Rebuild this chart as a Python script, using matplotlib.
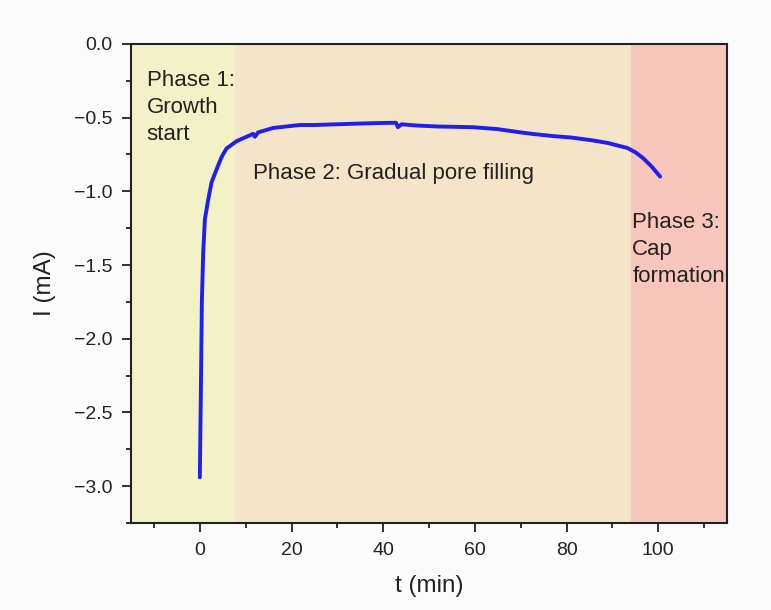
import matplotlib
matplotlib.use("Agg")
import matplotlib.pyplot as plt
from matplotlib.ticker import MultipleLocator

plt.rcParams['font.family'] = ['Liberation Sans', 'DejaVu Sans']

# Data
t_min = [0, 0.2, 0.45, 0.73, 1.1, 1.8, 2.55, 3.6, 4.7, 5.8, 8.0, 10.9, 11.6, 12.0,
         12.7, 16, 21.8, 25, 30, 35, 40, 42.8, 43.2, 44, 47, 51.7, 55, 59.6, 65,
         69.9, 73, 77, 81, 85.8, 89, 91, 93.2, 95, 96.7, 98.5, 100.4]
current_mA = [-2.94, -2.42, -1.74, -1.42, -1.19, -1.06, -0.94, -0.855, -0.77, -0.71,
              -0.66, -0.62, -0.61, -0.63, -0.60, -0.57, -0.55, -0.55, -0.545, -0.54,
              -0.536, -0.535, -0.565, -0.545, -0.553, -0.56, -0.562, -0.565, -0.578,
              -0.60, -0.612, -0.625, -0.635, -0.655, -0.672, -0.688, -0.705, -0.735,
              -0.775, -0.83, -0.90]

phase_bounds = [-15, 7.7, 94, 115]
phase_colors = ['#f3f2c6', '#f5e5c8', '#f8c6bc']
phase_labels = ['Phase 1:\nGrowth\nstart', 'Phase 2: Gradual pore filling',
                'Phase 3:\nCap\nformation']

fig = plt.figure(figsize=(7.71, 6.10), dpi=100, facecolor='#fbfbfb')
ax = fig.add_axes([0.170, 0.1426, 0.773, 0.7854])

for i in range(3):
    ax.axvspan(phase_bounds[i], phase_bounds[i + 1], color=phase_colors[i], lw=0, zorder=0)

ax.plot(t_min, current_mA, color='#1f1ff0', lw=2.8, zorder=3,
        solid_capstyle='round', solid_joinstyle='round')

ax.set_xlim(-15, 115)
ax.set_ylim(-3.25, 0)
ax.xaxis.set_major_locator(MultipleLocator(20))
ax.xaxis.set_minor_locator(MultipleLocator(10))
ax.yaxis.set_minor_locator(MultipleLocator(0.25))
ax.tick_params(which='major', direction='out', length=6.5, width=1.3, labelsize=14,
               colors='#222222', pad=7)
ax.tick_params(which='minor', direction='out', length=3.5, width=1.3, colors='#222222')
ax.set_yticks([0, -0.5, -1, -1.5, -2, -2.5, -3])
ax.set_yticklabels(['0.0', '\u22120.5', '\u22121.0', '\u22121.5', '\u22122.0', '\u22122.5', '\u22123.0'])
for s in ax.spines.values():
    s.set_linewidth(1.5)
    s.set_color('#222222')

ax.set_xlabel('t (min)', fontsize=17.5, labelpad=12, color='#222222')
ax.set_ylabel('I (mA)', fontsize=17.5, labelpad=13, color='#222222')

ax.text(-11.6, -0.175, phase_labels[0], fontsize=16, va='top', ha='left',
        linespacing=1.38, color='#222222')
ax.text(11.6, -0.88, phase_labels[1], fontsize=16, va='center', ha='left', color='#222222')
ax.text(94.3, -1.14, phase_labels[2], fontsize=16, va='top', ha='left',
        linespacing=1.38, color='#222222')

fig.savefig('out.png', dpi=100, facecolor=fig.get_facecolor())
